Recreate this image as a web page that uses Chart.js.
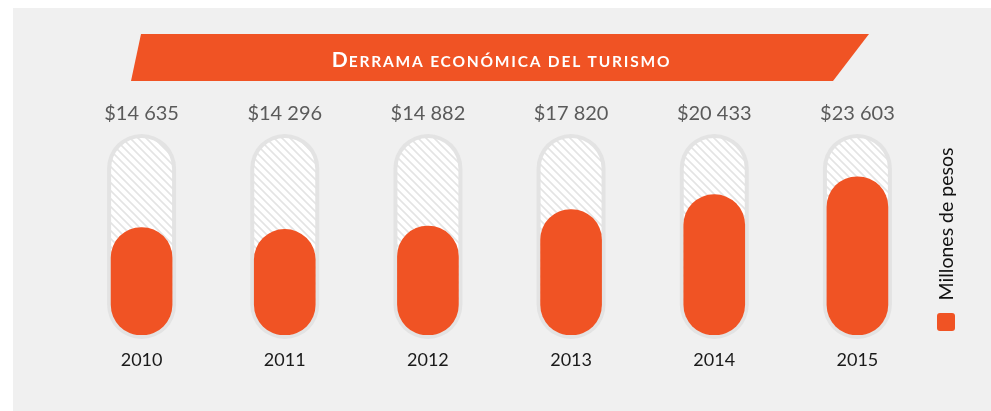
<!DOCTYPE html>
<html>
<head>
<meta charset="utf-8">
<script src="https://cdn.jsdelivr.net/npm/chart.js@4.4.1/dist/chart.umd.min.js"></script>
<style>
  html, body { margin: 0; padding: 0; background: #ffffff; }
  #plot { display: block; }
</style>
</head>
<body>
<canvas id="plot" width="991" height="411"></canvas>
<script>
// datos
let anios = ["2010", "2011", "2012", "2013", "2014", "2015"];
let derrama = [14635, 14296, 14882, 17820, 20433, 23603];
let titulo = "Derrama económica del turismo";
let leyenda = "Millones de pesos";

// escala del eje y (la barra no arranca en cero en el original)
let yMin = -4360;
let yMax = 30450;

let naranja = "#f05324";
let fondo = "#f0f0f0";

// formato $14 635
let formatoPesos = (v) => "$" + Math.floor(v / 1000) + " " + String(v % 1000).padStart(3, "0");

// patron rayado para el tubo
let crearRayado = (ctx) => {
  let c = document.createElement("canvas");
  c.width = 8; c.height = 8;
  let p = c.getContext("2d");
  p.fillStyle = "#ffffff";
  p.fillRect(0, 0, 8, 8);
  p.strokeStyle = "#e4e4e4";
  p.lineWidth = 1.6;
  p.beginPath();
  p.moveTo(-2, -2); p.lineTo(10, 10);
  p.moveTo(-2, 6); p.lineTo(2, 10);
  p.moveTo(6, -2); p.lineTo(10, 2);
  p.stroke();
  return ctx.createPattern(c, "repeat");
};

let capsula = (ctx, x, top, bottom, w) => {
  let r = w / 2;
  ctx.beginPath();
  ctx.moveTo(x - r, top + r);
  ctx.arc(x, top + r, r, Math.PI, 0);
  ctx.lineTo(x + r, bottom - r);
  ctx.arc(x, bottom - r, r, 0, Math.PI);
  ctx.closePath();
};

let decoracion = {
  id: "decoracion",
  beforeDraw: (chart) => {
    let ctx = chart.ctx;
    ctx.save();
    // panel gris
    ctx.fillStyle = fondo;
    ctx.fillRect(13, 8, chart.width - 13, chart.height - 8);

    // banda del titulo
    ctx.fillStyle = naranja;
    ctx.beginPath();
    ctx.moveTo(141, 34);
    ctx.lineTo(869, 34);
    ctx.lineTo(833, 81);
    ctx.lineTo(131, 81);
    ctx.closePath();
    ctx.fill();

    // titulo en versalitas
    let primera = titulo.charAt(0).toUpperCase();
    let resto = titulo.slice(1).toUpperCase();
    ctx.fillStyle = "#ffffff";
    ctx.textBaseline = "alphabetic";
    ctx.textAlign = "left";
    ctx.font = "bold 21px Lato";
    let w1 = ctx.measureText(primera).width;
    ctx.font = "bold 15.5px Lato";
    ctx.letterSpacing = "1.8px";
    let w2 = ctx.measureText(resto).width;
    let x0 = 501 - (w1 + w2) / 2;
    ctx.letterSpacing = "0px";
    ctx.font = "bold 21px Lato";
    ctx.fillText(primera, x0, 67);
    ctx.font = "bold 15.5px Lato";
    ctx.letterSpacing = "1.8px";
    ctx.fillText(resto, x0 + w1 + 1, 67);
    ctx.letterSpacing = "0px";

    // leyenda vertical
    ctx.fillStyle = "#111111";
    ctx.font = "19.5px Lato";
    ctx.textAlign = "center";
    ctx.textBaseline = "middle";
    ctx.translate(947, 224);
    ctx.rotate(-Math.PI / 2);
    ctx.fillText(leyenda, 0, 0);
    ctx.setTransform(1, 0, 0, 1, 0, 0);
    ctx.fillStyle = naranja;
    ctx.beginPath();
    ctx.roundRect(937, 313, 18, 18, 3);
    ctx.fill();
    ctx.restore();
  },
  beforeDatasetsDraw: (chart) => {
    let ctx = chart.ctx;
    let rayado = crearRayado(ctx);
    let abajo = chart.chartArea.bottom;
    ctx.save();
    chart.getDatasetMeta(0).data.forEach((barra) => {
      // tubo exterior gris
      capsula(ctx, barra.x, 134, abajo + 4, 69);
      ctx.fillStyle = "#e3e3e3";
      ctx.fill();
      capsula(ctx, barra.x, 138, abajo, 61);
      ctx.fillStyle = rayado;
      ctx.fill();
    });
    ctx.restore();
  },
  afterDatasetsDraw: (chart) => {
    let ctx = chart.ctx;
    ctx.save();
    ctx.fillStyle = "#5a5a5a";
    ctx.font = "20px Lato";
    ctx.textAlign = "center";
    ctx.textBaseline = "alphabetic";
    chart.getDatasetMeta(0).data.forEach((barra, i) => {
      ctx.fillText(formatoPesos(derrama[i]), barra.x, 120);
    });
    ctx.restore();
  }
};

let plotRef = document.getElementById("plot");

let config = {
  type: "bar",
  data: {
    labels: anios,
    datasets: [
      {
        label: leyenda,
        data: derrama,
        base: yMin,
        backgroundColor: naranja,
        barThickness: 61,
        borderRadius: 31,
        borderSkipped: false
      }
    ]
  },
  options: {
    responsive: false,
    devicePixelRatio: 1,
    animation: false,
    layout: {
      padding: { left: 70, right: 62, top: 138, bottom: 0 }
    },
    plugins: {
      legend: { display: false },
      tooltip: { enabled: false }
    },
    scales: {
      x: {
        grid: { display: false, drawTicks: false },
        border: { display: false },
        ticks: {
          color: "#1a1a1a",
          font: { family: "Lato", size: 18 },
          padding: 14
        },
        afterFit: (scale) => { scale.height = 76; }
      },
      y: {
        display: false,
        min: yMin,
        max: yMax
      }
    }
  },
  plugins: [decoracion]
};

let chart1 = new Chart(plotRef, config);
</script>
</body>
</html>
